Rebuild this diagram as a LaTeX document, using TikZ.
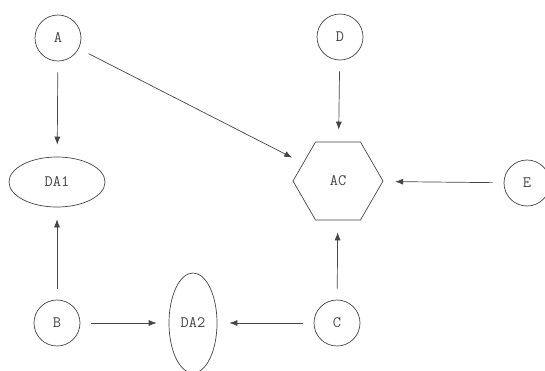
\documentclass[tikz,border=0pt]{standalone}
\usetikzlibrary{shapes.geometric,arrows.meta}
\definecolor{ink}{HTML}{454545}
\begin{document}
\begin{tikzpicture}[x=1bp,y=-1bp,
  every node/.style={font=\ttfamily\fontsize{16}{18}\selectfont, text=ink, draw=ink, line width=0.7bp, inner sep=0pt},
  entity/.style={circle, minimum size=46bp},
  store/.style={ellipse},
  process/.style={regular polygon, regular polygon sides=6, minimum size=90bp},
  flow/.style={draw=ink, line width=0.7bp, -{Latex[length=8bp,width=6bp]}, shorten <=11bp, shorten >=12bp}]
  \useasboundingbox (0,0) rectangle (545,370);
  % external entities
  \node[entity] (A) at (58,38) {A};
  \node[entity] (D) at (340,37) {D};
  \node[entity] (E) at (527,183) {E};
  \node[entity] (B) at (57,323) {B};
  \node[entity] (C) at (337,323) {C};
  % data stores
  \node[store, minimum width=96bp, minimum height=50bp] (DA1) at (57,182) {DA1};
  \node[store, minimum width=48bp, minimum height=100bp] (DA2) at (193,323) {DA2};
  % process
  \node[process] (AC) at (338,181) {AC};
  % flows
  \draw[flow] (A) -- (DA1);
  \draw[flow] (A) -- (AC);
  \draw[flow] (D) -- (AC);
  \draw[flow] (E) -- (AC);
  \draw[flow] (B) -- (DA1);
  \draw[flow] (C) -- (AC);
  \draw[flow] (B) -- (DA2);
  \draw[flow] (C) -- (DA2);
\end{tikzpicture}
\end{document}
